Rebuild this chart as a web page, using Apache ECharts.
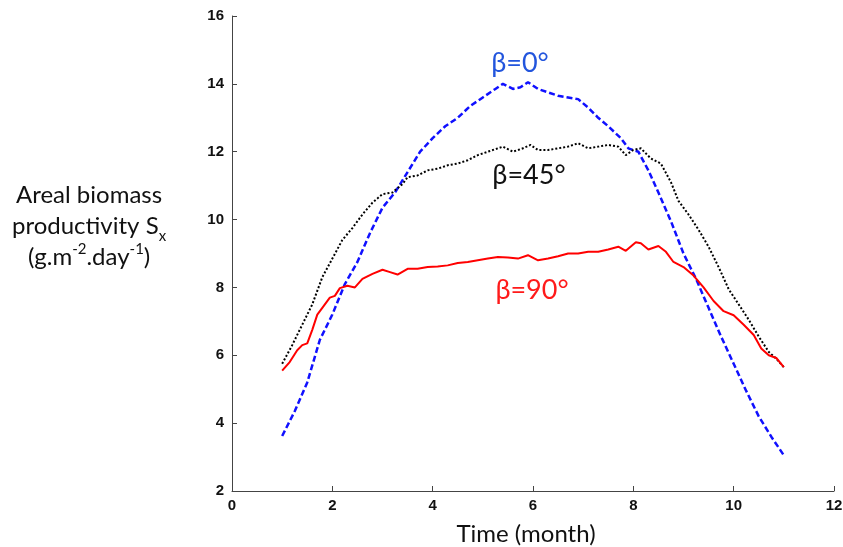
<!DOCTYPE html>
<html>
<head>
<meta charset="utf-8">
<script src="https://cdn.jsdelivr.net/npm/echarts@6/dist/echarts.min.js"></script>
<style>
  html, body { margin: 0; padding: 0; background: #fff; }
  #chart { width: 843px; height: 547px; }
</style>
</head>
<body>
<div id="chart"></div>
<script>
// time (month) / productivity pairs
var beta0 = [
  [1.0, 3.62], [1.25, 4.35], [1.5, 5.2], [1.75, 6.45], [2.0, 7.2], [2.25, 8.1],
  [2.5, 8.75], [2.75, 9.6], [3.0, 10.35], [3.25, 10.8], [3.5, 11.4], [3.75, 12.0],
  [4.0, 12.4], [4.25, 12.75], [4.5, 13.0], [4.75, 13.35], [5.0, 13.6], [5.25, 13.85],
  [5.4, 14.0], [5.6, 13.85], [5.75, 13.9], [5.9, 14.05], [6.1, 13.85], [6.3, 13.75],
  [6.5, 13.65], [6.7, 13.6], [6.9, 13.55], [7.1, 13.3], [7.3, 13.0], [7.5, 12.75],
  [7.75, 12.4], [7.9, 12.1], [8.1, 12.0], [8.3, 11.45], [8.5, 10.8], [8.75, 9.95],
  [9.0, 9.0], [9.25, 8.25], [9.5, 7.4], [9.75, 6.55], [10.0, 5.75], [10.25, 4.95],
  [10.5, 4.2], [10.75, 3.6], [11.0, 3.05]
];
var beta45 = [
  [1.0, 5.75], [1.2, 6.3], [1.4, 6.9], [1.6, 7.5], [1.8, 8.3], [2.0, 8.85],
  [2.2, 9.4], [2.4, 9.75], [2.6, 10.15], [2.8, 10.5], [3.0, 10.75], [3.2, 10.8],
  [3.4, 11.05], [3.5, 11.25], [3.7, 11.3], [3.9, 11.45], [4.1, 11.5], [4.3, 11.6],
  [4.5, 11.65], [4.7, 11.75], [4.9, 11.9], [5.1, 12.0], [5.3, 12.1], [5.4, 12.15],
  [5.6, 12.0], [5.8, 12.1], [5.95, 12.2], [6.1, 12.05], [6.3, 12.05], [6.5, 12.1],
  [6.7, 12.15], [6.9, 12.25], [7.1, 12.1], [7.3, 12.15], [7.5, 12.2], [7.7, 12.15],
  [7.85, 11.9], [8.0, 12.05], [8.15, 12.1], [8.35, 11.8], [8.55, 11.65], [8.75, 11.1],
  [8.9, 10.55], [9.1, 10.15], [9.3, 9.7], [9.5, 9.2], [9.7, 8.6], [9.9, 7.95],
  [10.1, 7.5], [10.3, 7.05], [10.5, 6.55], [10.7, 6.1], [10.85, 5.9], [11.0, 5.65]
];
var beta90 = [
  [1.0, 5.55], [1.15, 5.8], [1.3, 6.15], [1.4, 6.3], [1.5, 6.35], [1.6, 6.75],
  [1.7, 7.2], [1.8, 7.4], [1.95, 7.7], [2.05, 7.75], [2.15, 7.98], [2.3, 8.05],
  [2.45, 8.0], [2.6, 8.25], [2.8, 8.4], [3.0, 8.52], [3.15, 8.45], [3.3, 8.38],
  [3.5, 8.55], [3.7, 8.55], [3.9, 8.6], [4.1, 8.62], [4.3, 8.65], [4.5, 8.72],
  [4.7, 8.75], [4.9, 8.8], [5.1, 8.85], [5.3, 8.9], [5.5, 8.88], [5.7, 8.85],
  [5.9, 8.95], [6.1, 8.8], [6.3, 8.85], [6.5, 8.92], [6.7, 9.0], [6.9, 9.0],
  [7.1, 9.05], [7.3, 9.05], [7.5, 9.12], [7.7, 9.2], [7.85, 9.08], [8.05, 9.33],
  [8.15, 9.3], [8.3, 9.12], [8.5, 9.22], [8.65, 9.05], [8.8, 8.75], [9.0, 8.6],
  [9.2, 8.35], [9.4, 8.0], [9.6, 7.6], [9.8, 7.3], [10.0, 7.18], [10.2, 6.9],
  [10.4, 6.6], [10.55, 6.2], [10.7, 6.0], [10.85, 5.92], [11.0, 5.65]
];
var seriesNames = ['β=0°', 'β=45°', 'β=90°'];
var labelAt = [[5.74, 14.6], [5.92, 11.3], [5.98, 7.92]];

var chart = echarts.init(document.getElementById('chart'));

var tickFont = { fontFamily: 'Liberation Sans', fontWeight: 'bold', fontSize: 15, color: '#111' };

function curveLabel(i, color) {
  return {
    silent: true,
    symbol: 'circle',
    symbolSize: 1,
    itemStyle: { color: 'rgba(0,0,0,0)' },
    label: {
      show: true, position: 'inside', formatter: seriesNames[i],
      fontFamily: 'Lato', fontSize: 27, color: color
    },
    data: [{ coord: labelAt[i] }]
  };
}

var option = {
  backgroundColor: '#fff',
  animation: false,
  grid: { left: 232, right: 9, top: 16, bottom: 56, outerBoundsMode: 'none', containLabel: false },
  xAxis: {
    type: 'value', min: 0, max: 12, interval: 2,
    name: 'Time (month)', nameLocation: 'middle', nameGap: 31,
    nameTextStyle: { fontFamily: 'Lato', fontSize: 24, color: '#111', padding: [0, 14, 0, 0] },
    axisLine: { show: true, onZero: false, lineStyle: { color: '#444', width: 1 } },
    axisTick: { show: true, inside: true, length: 5, lineStyle: { color: '#444' } },
    axisLabel: Object.assign({ margin: 7 }, tickFont),
    splitLine: { show: false }
  },
  yAxis: {
    type: 'value', min: 2, max: 16, interval: 2,
    axisLine: { show: true, lineStyle: { color: '#444', width: 1 } },
    axisTick: { show: true, inside: true, length: 5, lineStyle: { color: '#444' } },
    axisLabel: Object.assign({ margin: 8 }, tickFont),
    splitLine: { show: false }
  },
  graphic: [{
    type: 'text', left: 12, top: 180,
    style: {
      text: 'Areal biomass\nproductivity S{sub|x}\n({n|g.m}{sup|-2}{n|.day}{sup|-1}{n|)}',
      textAlign: 'center',
      font: '24px Lato',
      fill: '#111',
      lineHeight: 31,
      rich: {
        n: { fontFamily: 'Lato', fontSize: 24, lineHeight: 31, color: '#111' },
        sub: { fontFamily: 'Lato', fontSize: 15, verticalAlign: 'bottom', lineHeight: 31, color: '#111', padding: [0, 0, -2, 0] },
        sup: { fontFamily: 'Lato', fontSize: 15, verticalAlign: 'top', lineHeight: 31, color: '#111' }
      }
    }
  }],
  series: [
    {
      name: seriesNames[0], type: 'line', data: beta0, showSymbol: false,
      lineStyle: { color: '#1010ff', width: 2.5, type: [6, 3] },
      markPoint: curveLabel(0, '#2255dd')
    },
    {
      name: seriesNames[1], type: 'line', data: beta45, showSymbol: false,
      lineStyle: { color: '#000', width: 2, type: [2, 2] },
      markPoint: curveLabel(1, '#111')
    },
    {
      name: seriesNames[2], type: 'line', data: beta90, showSymbol: false,
      lineStyle: { color: '#ff0000', width: 2 },
      markPoint: curveLabel(2, '#ff1a1a')
    }
  ]
};

chart.setOption(option);
</script>
</body>
</html>
